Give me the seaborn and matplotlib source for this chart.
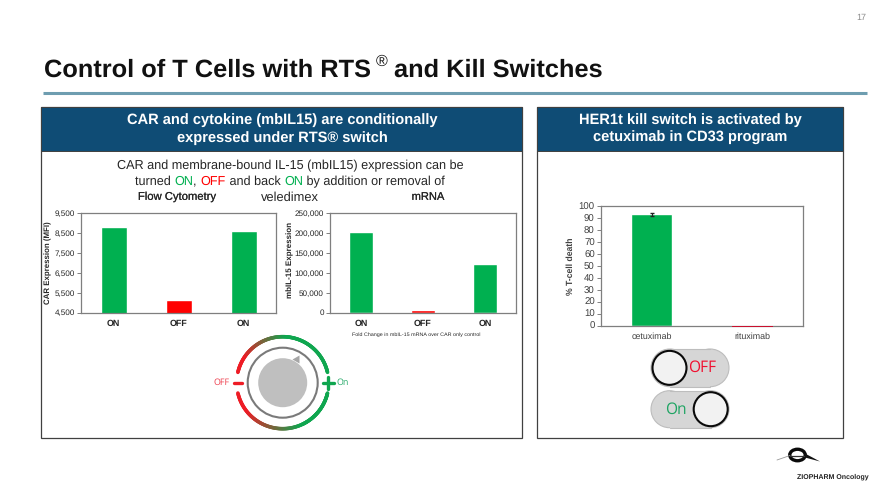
import numpy as np
import pandas as pd
import matplotlib
matplotlib.use("Agg")
import matplotlib.pyplot as plt
import matplotlib.patheffects as pe
from matplotlib.collections import LineCollection
from matplotlib.patches import Rectangle, Circle, Polygon, Ellipse
import seaborn as sns

flow_labels = ["ON", "OFF", "ON"]
flow_values = [8800, 5150, 8600]
flow_ticks = [4500, 5500, 6500, 7500, 8500, 9500]
mrna_labels = ["ON", "OFF", "ON"]
mrna_values = [203000, 6000, 122000]
mrna_ticks = [0, 50000, 100000, 150000, 200000, 250000]
kill_labels = ["cetuximab", "rituximab"]
kill_values = [93, -0.6]
kill_error = [1, 0]
kill_ticks = list(range(0, 101, 10))

GREEN = "#00B050"
RED = "#FF0000"
NAVY = "#0F4C75"
TXT = "#262626"
W, H = 880, 495

sns.set_theme(style="white")
plt.rcParams["font.family"] = ["Liberation Sans", "DejaVu Sans"]
plt.rcParams["text.hinting"] = "no_hinting"
plt.rcParams["text.hinting_factor"] = 8

fig = plt.figure(figsize=(W / 100, H / 100), dpi=100)
bg = fig.add_axes([0, 0, 1, 1], zorder=0)
bg.set_xlim(0, W)
bg.set_ylim(H, 0)
bg.axis("off")


def runs(cx, y, parts, size, weight="normal"):
    """Draw coloured text runs centred on cx."""
    r = fig.canvas.get_renderer()
    arts = []
    for s, c in parts:
        t = bg.text(0, y, s, color=c, fontsize=size, fontweight=weight, va="center", ha="left")
        arts.append(t)
    widths = [t.get_window_extent(r).width for t in arts]
    x = cx - sum(widths) / 2
    for t, w in zip(arts, widths):
        t.set_x(x)
        x += w


def chart(box, labels, values, ticks, ylim, width, colors, tick_size, lab_size, lab_weight, tick_color):
    l, t, r, b = box
    ax = fig.add_axes([l / W, 1 - b / H, (r - l) / W, (b - t) / H], zorder=2)
    df = pd.DataFrame({"pos": range(len(values)), "value": values})
    sns.barplot(data=df, x="pos", y="value", hue="pos", palette=colors, dodge=False,
                width=width, legend=False, saturation=1, ax=ax)
    ax.set_xlim(-0.5, len(values) - 0.5)
    ax.set_ylim(*ylim)
    ax.set_yticks(ticks)
    ax.set_yticklabels([f"{v:,}" for v in ticks], fontsize=tick_size, color=tick_color)
    ax.set_xticks(range(len(values)))
    ax.set_xticklabels(labels, fontsize=lab_size, fontweight=lab_weight, color=tick_color)
    ax.set_xlabel("")
    ax.set_ylabel("")
    ax.tick_params(axis="y", length=3, width=0.7, color="#808080", pad=1.5, left=True)
    ax.tick_params(axis="x", length=0, pad=5)
    for s in ax.spines.values():
        s.set_color("#7F7F7F")
        s.set_linewidth(0.9)
    return ax


# title block
bg.text(44, 70, "Control of T Cells with RTS", fontsize=18.3, fontweight="bold", color="#111111", va="center")
bg.text(375.5, 62, "®", fontsize=11.5, fontweight="normal", color="#111111", va="center")
bg.text(393.5, 70, "and Kill Switches", fontsize=18.3, fontweight="bold", color="#111111", va="center")
bg.plot([43, 867], [93, 93], color="#6E9DB0", lw=2.2, solid_capstyle="butt")
bg.text(866, 18, "17", fontsize=6.5, color="#8C8C8C", ha="right", va="center")

# panels
for x0, x1 in [(41, 522), (537, 843)]:
    bg.add_patch(Rectangle((x0, 107), x1 - x0, 331, fc="white", ec="#404040", lw=0.9))
    bg.add_patch(Rectangle((x0, 107), x1 - x0, 44, fc=NAVY, ec="#404040", lw=0.7))

hdr = dict(color="white", fontsize=10.5, fontweight="bold", ha="center", va="center")
bg.text(282, 120.5, "CAR and cytokine (mbIL15) are conditionally", **hdr)
bg.text(282, 138, "expressed under RTS® switch", **hdr)
bg.text(690, 120.5, "HER1t kill switch is activated by", **hdr)
bg.text(690, 138, "cetuximab in CD33 program", **hdr)

bg.text(290, 166, "CAR and membrane-bound IL-15 (mbIL15) expression can be", fontsize=9.05, color=TXT, ha="center", va="center")
runs(290, 182, [("turned ", TXT), ("ON", GREEN), (", ", TXT), ("OFF", RED), (" and back ", TXT), ("ON", GREEN),
                (" by addition or removal of", TXT)], 9.05)
stroke = [pe.withStroke(linewidth=0.12, foreground=TXT)]
bg.text(177, 197, "Flow Cytometry", fontsize=8.1, color=TXT, ha="center", va="center", path_effects=stroke)
bg.text(290, 198, "veledimex", fontsize=9.25, color=TXT, ha="center", va="center")
bg.text(428, 197, "mRNA", fontsize=8, color=TXT, ha="center", va="center", path_effects=stroke)

# charts
chart((81, 213, 276, 312.5), flow_labels, flow_values, flow_ticks, (4500, 9500), 0.4,
      [GREEN, RED, GREEN], 5.9, 6.4, "bold", TXT)
chart((330, 213, 516, 312.5), mrna_labels, mrna_values, mrna_ticks, (0, 250000), 0.4,
      [GREEN, RED, GREEN], 5.9, 6.4, "bold", TXT)
ax3 = chart((601, 206, 803, 325.7), kill_labels, kill_values, kill_ticks, (0, 100), 0.41,
            [GREEN, "#C8102E"], 6.9, 6.4, "normal", "#404040")
ax3.set_yticklabels([str(v) for v in kill_ticks])
ax3.errorbar([0], [kill_values[0]], yerr=[kill_error[0]], color="#222222", capsize=1.5, lw=0.8)
for p in ax3.patches:
    if p.get_height() < 0:
        p.set_clip_on(False)
        p.set_height(-1.2)
        p.set_zorder(6)
        p.set_facecolor("#C8102E")
        p.set_edgecolor("none")

bg.text(48.5, 263, "CAR Expression (MFI)", rotation=90, fontsize=5.7, fontweight="bold", color=TXT, ha="center", va="center")
bg.text(290.5, 260, "mbIL-15 Expression", rotation=90, fontsize=5.8, fontweight="bold", color=TXT, ha="center", va="center")
bg.text(571, 266, "% T-cell death", rotation=90, fontsize=6.2, fontweight="bold", color="#404040", ha="center", va="center")
bg.text(416, 335, "Fold Change in mbIL-15 mRNA over CAR only control", fontsize=3.9, color=TXT, ha="center", va="center", zorder=5)

# dial
cx, cy, R = 282.7, 382.7, 46
green_rgb = np.array(matplotlib.colors.to_rgb("#0FA64F"))
red_rgb = np.array(matplotlib.colors.to_rgb("#EE1C25"))


def arc(a0, a1, f0, f1, n=80):
    angs = np.radians(np.linspace(a0, a1, n))
    xs, ys = cx + R * np.cos(angs), cy - R * np.sin(angs)
    pts = np.column_stack([xs, ys])
    segs = np.stack([pts[:-1], pts[1:]], axis=1)
    fr = np.clip(np.linspace(f0, f1, n - 1), 0, 1)[:, None]
    cols = red_rgb * (1 - fr) + green_rgb * fr
    bg.add_collection(LineCollection(segs, colors=cols, linewidths=2.6, capstyle="round"))


arc(167, 85, -0.35, 1.0)
arc(85, 13, 1, 1)
arc(193, 295, -0.35, 1.0)
arc(295, 347, 1, 1)
bg.add_patch(Circle((cx, cy), 35, fc="white", ec="#7A7A7A", lw=1.5))
bg.add_patch(Circle((cx, cy), 24.5, fc="#BFBFBF", ec="none"))
bg.add_patch(Polygon([(292.5, 359.5), (299.5, 355.5), (299.5, 363.5)], fc="#A6A6A6", ec="none"))
bg.plot([233.5, 242], [cy, cy], color="#EE1C25", lw=2.4, solid_capstyle="round")
bg.plot([323, 334], [cy, cy], color="#0FA64F", lw=2.4, solid_capstyle="round")
bg.plot([328.3, 328.3], [377, 388.5], color="#0FA64F", lw=2.4, solid_capstyle="round")
bg.text(221.5, cy, "OFF", fontsize=6.4, color="#EE3B4A", ha="center", va="center", family="Open Sans")
bg.text(342.5, cy, "On", fontsize=6.4, color="#22A866", ha="center", va="center", family="Open Sans")


# toggles
def toggle(y0, y1, knob_x, label, lab_x, col):
    ym = (y0 + y1) / 2
    r = (y1 - y0) / 2
    for xc in (651 + r, 729 - r):
        bg.add_patch(Circle((xc, ym), r, fc="#D6D6D6", ec="#BDBDBD", lw=0.8))
    bg.add_patch(Rectangle((651 + r, y0), 78 - 2 * r, y1 - y0, fc="#D6D6D6", ec="none", zorder=1.5))
    bg.plot([651 + r, 729 - r], [y0, y0], color="#BDBDBD", lw=0.8, zorder=1.6)
    bg.plot([651 + r, 729 - r], [y1, y1], color="#BDBDBD", lw=0.8, zorder=1.6)
    bg.add_patch(Circle((knob_x, ym), 17, fc="#F2F2F2", ec="#0A0A0A", lw=1.5, zorder=2))
    bg.text(lab_x, ym, label, fontsize=11.2, color=col, ha="center", va="center", family="Open Sans", zorder=3)


toggle(349, 386.7, 669.5, "OFF", 702.5, "#F01030")
toggle(390.7, 427.7, 710.7, "On", 676, "#1FA463")

# logo
bg.add_patch(Ellipse((797.5, 455), 15.5, 11.5, fc="none", ec="#0A0A0A", lw=2.4, zorder=3))
bg.plot([777, 790], [460, 455.5], color="#999999", lw=0.6, zorder=4)
bg.plot([790, 806], [455.5, 455.5], color="#333333", lw=0.9, zorder=4)
bg.add_patch(Polygon([(805, 453.5), (820, 461.5), (805, 457.5)], fc="#111111", ec="none", zorder=4))
bg.text(832.5, 476.5, "ZIOPHARM Oncology", fontsize=5, fontweight="bold", color="#222222", ha="center", va="center")

fig.savefig("out.png", dpi=100)
